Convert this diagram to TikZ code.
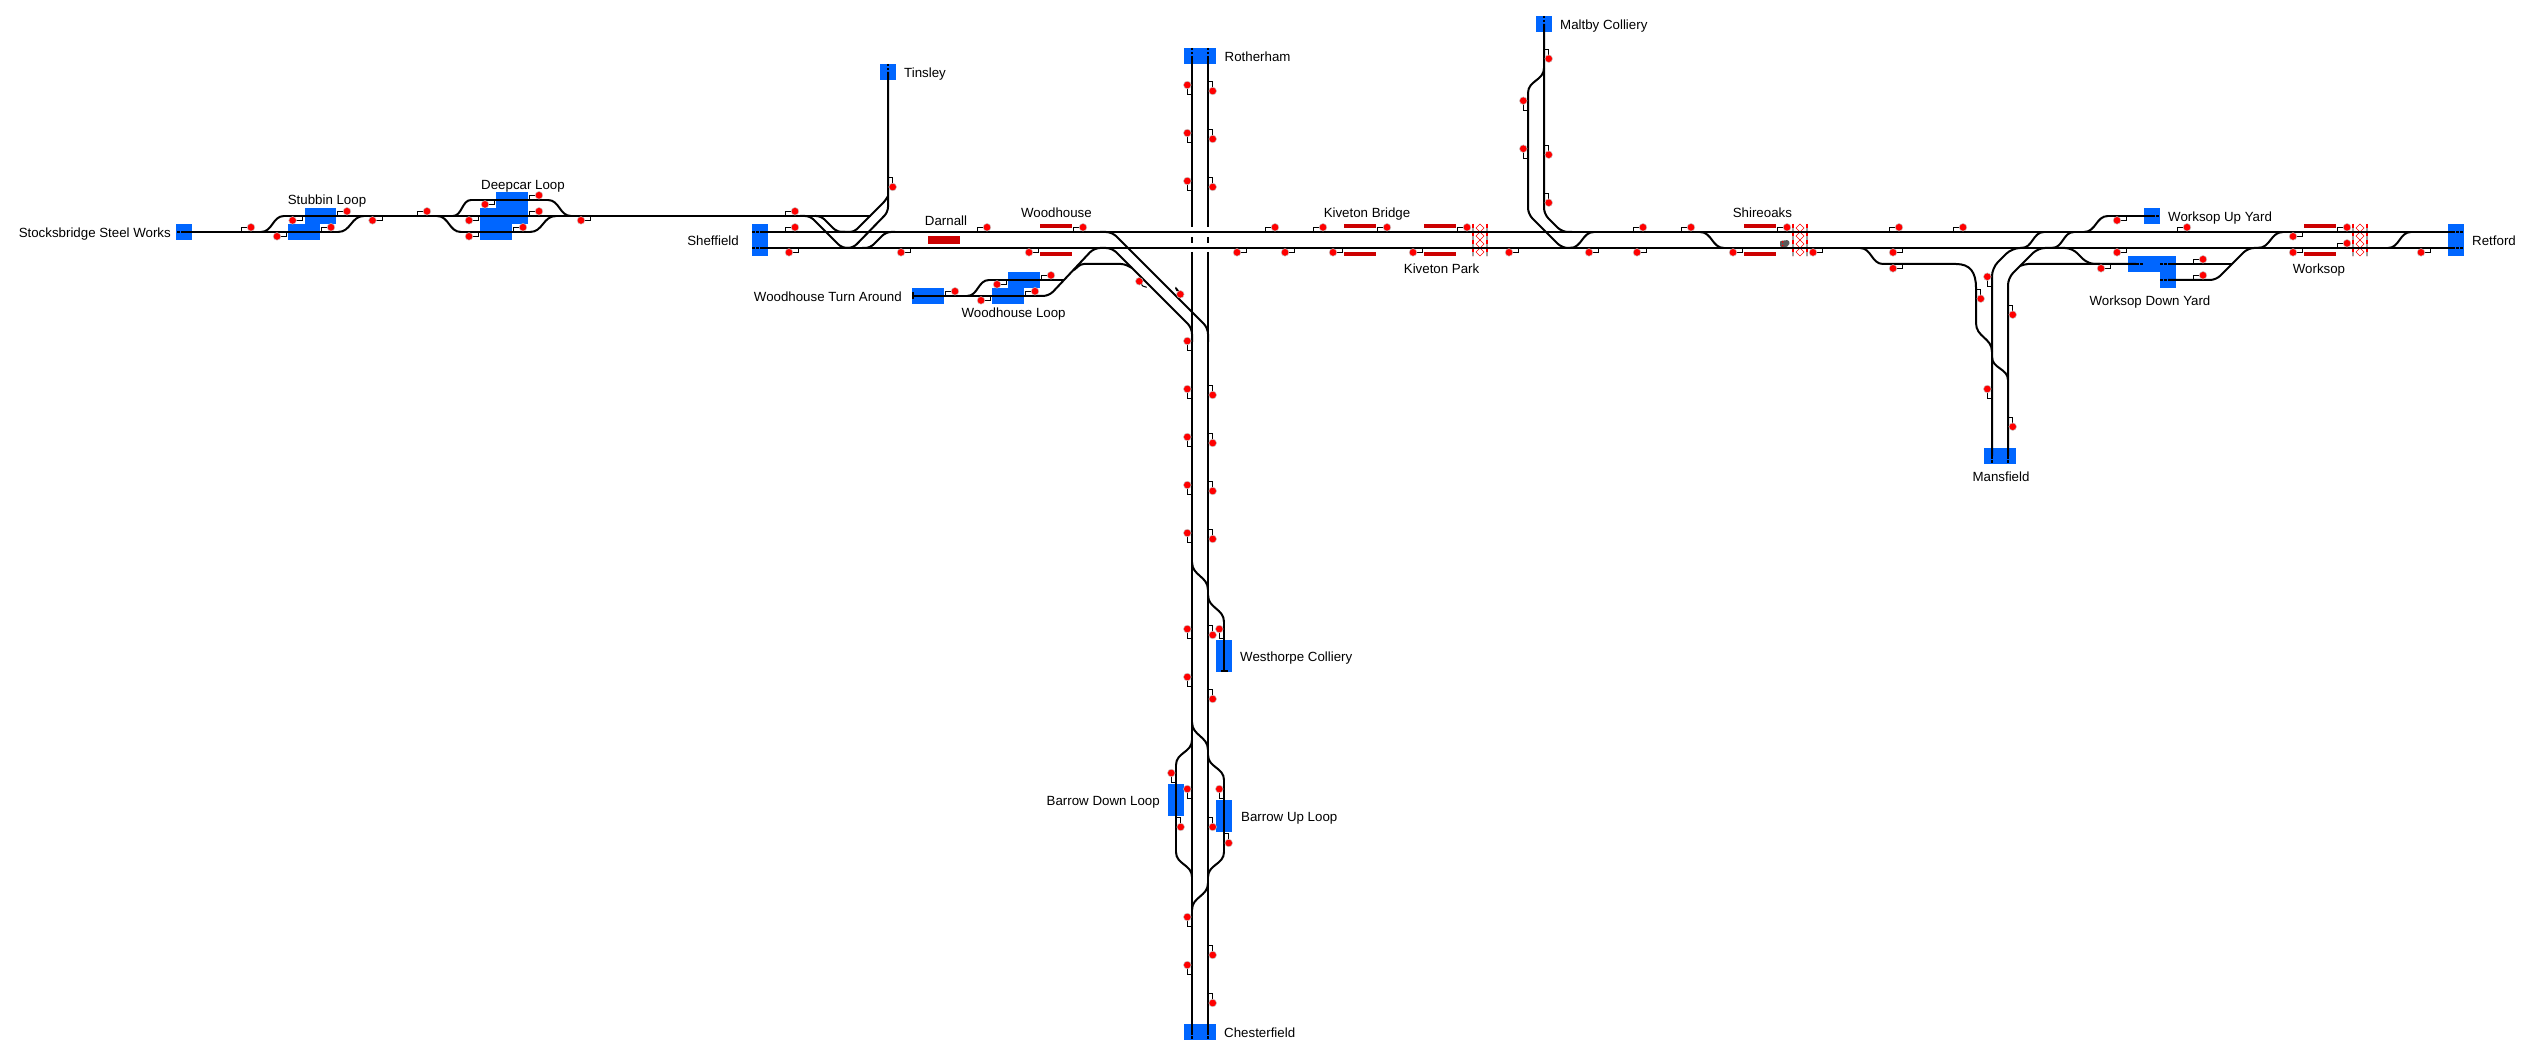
\documentclass[tikz,border=0pt]{standalone}
\usepackage{fontspec}
\setmainfont{Liberation Sans}
\definecolor{blockblue}{HTML}{0066FF}
\definecolor{platred}{HTML}{CC0000}
\definecolor{sigred}{HTML}{FF0000}
\definecolor{halo}{HTML}{C8C8C8}
\definecolor{boxgrey}{HTML}{5A5A5A}
\definecolor{xgrey}{HTML}{A0A0A0}
\tikzset{
  track/.style={draw=black,line width=2pt,line cap=butt},
  rtrack/.style={track,rounded corners=#1},
  stub/.style={draw=black,line width=2pt,dash pattern=on 2.5pt off 1.5pt},
  hook/.style={draw=black,line width=1pt},
  dotsig/.style={circle,fill=sigred,draw=halo,line width=.5pt,minimum size=7.6pt,inner sep=0pt},
  block/.style={fill=blockblue,draw=none},
  platform/.style={fill=platred,draw=none},
  lbl/.style={inner sep=0pt,text height=9.7pt,text depth=0pt,yshift=-.7pt,font=\fontsize{13.3}{15}\selectfont,text=black},
}
\newcommand{\hs}[4]{\draw[track] (#1,#2) .. controls ({(#1+#3)/2},#2) and ({(#1+#3)/2},#4) .. (#3,#4);}
\newcommand{\vs}[4]{\draw[track] (#1,#2) .. controls (#1,{(#2+#4)/2}) and (#3,{(#2+#4)/2}) .. (#3,#4);}
\newcommand{\sT}[2]{\draw[hook] ({#1-9.6},#2) -- ({#1-9.6},{#2-4.7}) -- (#1,{#2-4.7}); \node[dotsig] at (#1,{#2-4.7}) {};}
\newcommand{\sB}[2]{\draw[hook] ({#1+9.6},#2) -- ({#1+9.6},{#2+4.4}) -- (#1,{#2+4.4}); \node[dotsig] at (#1,{#2+4.4}) {};}
\newcommand{\sL}[2]{\draw[hook] (#1,{#2+9.6}) -- ({#1-4.7},{#2+9.6}) -- ({#1-4.7},#2); \node[dotsig] at ({#1-4.7},#2) {};}
\newcommand{\sR}[2]{\draw[hook] (#1,{#2-9.6}) -- ({#1+4.7},{#2-9.6}) -- ({#1+4.7},#2); \node[dotsig] at ({#1+4.7},#2) {};}
\newcommand{\lcross}[1]{%
  \draw[xgrey,line width=2pt] ({#1+1},224) -- ({#1+1},256) ({#1+15},224) -- ({#1+15},256);
  \draw[sigred,line width=2pt,dash pattern=on 4pt off 4pt] ({#1+1},224) -- ({#1+1},256) ({#1+15},224) -- ({#1+15},256);
  \foreach \yy in {228,236,244,252}{\draw[sigred,line width=.6pt] ({#1+4},\yy) -- ({#1+8},{\yy-4}) -- ({#1+12},\yy) -- ({#1+8},{\yy+4}) -- cycle;}
}
\begin{document}
\begin{tikzpicture}[x=1pt,y=-1pt]
\useasboundingbox (0,0) rectangle (2535,1056);
\fill[white] (0,0) rectangle (2535,1056);
% blocks
\fill[block] (176,224) rectangle (192,240);
\fill[block] (304.5,208) rectangle (336,224);
\fill[block] (288,224) rectangle (320,240);
\fill[block] (496,192) rectangle (528,208);
\fill[block] (480,208) rectangle (528,224);
\fill[block] (480,224) rectangle (512,240);
\fill[block] (880,64) rectangle (896,80);
\fill[block] (752,224) rectangle (768,256);
\fill[block] (912,288) rectangle (944,304);
\fill[block] (1008,272) rectangle (1040,288);
\fill[block] (992,288) rectangle (1024,304);
\fill[block] (1184,48) rectangle (1216,64);
\fill[block] (1536,16) rectangle (1552,32);
\fill[block] (2144,208) rectangle (2160,224);
\fill[block] (2128,256) rectangle (2176,272);
\fill[block] (2160,272) rectangle (2176,288);
\fill[block] (2448,224) rectangle (2464,256);
\fill[block] (1984,448) rectangle (2016,464);
\fill[block] (1216,640) rectangle (1232,672);
\fill[block] (1168,784) rectangle (1184,816);
\fill[block] (1216,800) rectangle (1232,832);
\fill[block] (1184,1024) rectangle (1216,1040);
% platforms
\fill[platform] (928,236) rectangle (960,244);
\foreach \px in {1040,1344,1424,1744,2304}{
  \fill[platform] (\px,224) rectangle ({\px+32},228);
  \fill[platform] (\px,252) rectangle ({\px+32},256);
}
% level crossings
\lcross{1472}\lcross{1792}\lcross{2352}
% grey box at Shireoaks
\fill[boxgrey,rounded corners=1pt] (1780,241) -- (1788,240) -- (1790,243) -- (1787,247) -- (1780,247) -- cycle;
\fill[sigred] (1782.7,241.9) circle (.9) (1782.7,245.6) circle (.9);
% main horizontal lines
\draw[track] (760,232) -- (2455,232);
\draw[track] (760,248) -- (2455,248);
\draw[stub] (752,232) -- (760,232) (752,248) -- (760,248);
\draw[stub] (2456,232) -- (2464,232) (2456,248) -- (2464,248);
% Stocksbridge branch
\draw[stub] (177,232) -- (184,232);
\draw[track] (184,232) -- (338,232);
\draw[track] (284,216) -- (871,216);
\hs{261}{232}{284}{216}
\hs{338}{232}{364}{216}
\draw[track] (471,200) -- (548,200);
\hs{453}{216}{471}{200}
\hs{548}{200}{571}{216}
\draw[track] (461,232) -- (530,232);
\hs{437}{216}{461}{232}
\hs{530}{232}{556}{216}
% Tinsley
\draw[stub] (888,64) -- (888,72);
\draw[rtrack=5] (888,72) -- (888,212) -- (853,248) -- (840,248);
\draw[rtrack=4] (888,196) -- (886,200) -- (854,232) -- (840,232);
\draw[rtrack=5] (800,216) -- (810,216) -- (842,248) -- (850,248);
\draw[rtrack=5] (815,216) -- (821,216) -- (837,232) -- (845,232);
\draw[rtrack=5] (862,248) -- (870,248) -- (886,232) -- (895,232);
% Woodhouse
\draw[track] (913,296) -- (1040,296);
\draw[track] (913,292.5) -- (913,299.5);
\hs{967}{296}{989}{280}
\draw[track] (989,280) -- (1064,280);
\draw[rtrack=6] (1036,296) -- (1049,296) -- (1094,248) -- (1112,248) -- (1192,328) -- (1192,342);
\draw[rtrack=6] (1100,232) -- (1112,232) -- (1208,328) -- (1208,342);
\draw[rtrack=3] (1074,270) -- (1081,264) -- (1124,264) -- (1132,268);
% Verticals
\draw[stub] (1192,48) -- (1192,56) (1208,48) -- (1208,56);
\draw[track] (1192,56) -- (1192,227) (1208,56) -- (1208,227);
\draw[track] (1192,237) -- (1192,243) (1208,237) -- (1208,243);
\draw[track] (1192,252) -- (1192,1032) (1208,252) -- (1208,1032);
\draw[stub] (1192,1032) -- (1192,1040) (1208,1032) -- (1208,1040);
\vs{1192}{562}{1208}{590}
\vs{1192}{722}{1208}{750}
\vs{1208}{883}{1192}{910}
\vs{1208}{595}{1224}{622}
\draw[track] (1224,622) -- (1224,671);
\draw[track] (1220.5,671) -- (1227.5,671);
\vs{1208}{755}{1224}{780}
\draw[track] (1224,780) -- (1224,852);
\vs{1224}{852}{1208}{877}
\vs{1192}{740}{1176}{765}
\draw[track] (1176,765) -- (1176,852);
\vs{1176}{852}{1192}{877}
% Maltby
\draw[stub] (1544,16) -- (1544,24);
\draw[rtrack=6] (1544,24) -- (1544,214) -- (1562,232) -- (1572,232);
\vs{1544}{68}{1528}{93}
\draw[rtrack=6] (1528,93) -- (1528,214) -- (1562,248) -- (1572,248);
\hs{1570}{248}{1594}{232}
\hs{1700}{232}{1724}{248}
% Mansfield and east
\hs{1860}{248}{1883}{264}
\draw[track] (1883,264) -- (1956,264) .. controls (1970,264) and (1976,272) .. (1976,288) -- (1976,323);
\vs{1976}{323}{1992}{352}
\draw[rtrack=8] (1992,456) -- (1992,268) -- (2012,248) -- (2025,248);
\draw[rtrack=7] (2008,456) -- (2008,278) -- (2038,248) -- (2072,248) -- (2088,264) -- (2100,264);
\draw[stub] (1992,456) -- (1992,464) (2008,456) -- (2008,464);
\vs{1992}{357}{2008}{380}
\draw[rtrack=2] (2020,266) -- (2026,264) -- (2136,264);
\draw[stub] (2136,264) -- (2144,264);
\draw[stub] (2160,264) -- (2168,264) (2160,280) -- (2168,280);
\draw[track] (2168,264) -- (2232,264);
\draw[rtrack=6] (2168,280) -- (2216,280) -- (2248,248) -- (2262,248);
\hs{2021.5}{248}{2044}{232}
\hs{2052}{248}{2074}{232}
\hs{2258}{248}{2283}{232}
\hs{2388}{248}{2411}{232}
\hs{2084}{232}{2108}{216}
\draw[track] (2108,216) -- (2152,216);
\draw[stub] (2152,216) -- (2160,216);
% signals: horizontal, above
\foreach \sx/\sy in {251/232,347/216,331/232,427/216,539/216,539/200,523/232,
  795/216,795/232,987/232,1083/232,955/296,1035/296,1051/280,
  1275/232,1323/232,1387/232,1467/232,1643/232,1691/232,1787/232,
  1899/232,1963/232,2187/232,2347/232,2347/248,2203/264,2203/280}{\sT{\sx}{\sy}}
% signals: horizontal, below
\foreach \sx/\sy in {277/232,292.6/216,372.5/216,469/216,469/232,485/200,581/216,
  789/248,901/248,1029/248,981/296,997/280,
  1237/248,1285/248,1333/248,1413/248,1509/248,1589/248,1637/248,1733/248,1813/248,
  1893/248,1893/264,2293/232,2117/216,2117/248,2293/248,2421/248,2101/264}{\sB{\sx}{\sy}}
% signals: vertical, left
\foreach \sx/\sy in {1192/85,1192/133,1192/181,1192/341,1192/389,1192/437,1192/485,1192/533,
  1192/629,1192/677,1192/789,1192/917,1192/965,1224/629,1224/789,1176/773,
  1528/100.7,1528/148.7,1992/276.7,1992/389}{\sL{\sx}{\sy}}
% signals: vertical, right
\foreach \sx/\sy in {888/187,1208/91,1208/139,1208/187,1208/395,1208/443,1208/491,1208/539,
  1208/635,1208/699,1208/827,1208/955,1208/1003,1224/843,1176/827,
  1544/58.7,1544/154.7,1544/202.7,1976/298.7,2008/314.7,2008/426.7}{\sR{\sx}{\sy}}
% signals on the diagonals
\draw[hook] (1146.7,287.3) -- (1142.7,286) -- (1139.3,281.3);
\node[dotsig] (sigdiagA) at (1139.3,281.3) {};
\draw[hook] (1177,291) .. controls (1174,286) and (1176,286) .. (1180.3,294.3);
\node[dotsig] (sigdiagB) at (1180.3,294.3) {};
% labels
\node[lbl,anchor=east] (stocks) at (171,232) {Stocksbridge Steel Works};
\node[lbl] (stubbin) at (327,199) {Stubbin Loop};
\node[lbl] (deepcar) at (523,184) {Deepcar Loop};
\node[lbl,anchor=west] (tinsley) at (904,72) {Tinsley};
\node[lbl,anchor=east] (sheffield) at (739,240) {Sheffield};
\node[lbl] (darnall) at (946,220) {Darnall};
\node[lbl] (woodhouse) at (1056.4,212) {Woodhouse};
\node[lbl,anchor=east] (turn) at (902,296) {Woodhouse Turn Around};
\node[lbl] (wloop) at (1013.6,312) {Woodhouse Loop};
\node[lbl,anchor=west] (rotherham) at (1224.5,56) {Rotherham};
\node[lbl,anchor=west] (maltby) at (1560,24) {Maltby Colliery};
\node[lbl] (kbridge) at (1367,212) {Kiveton Bridge};
\node[lbl] (kpark) at (1441.6,268) {Kiveton Park};
\node[lbl] (shireoaks) at (1762.4,212) {Shireoaks};
\node[lbl,anchor=west] (upyard) at (2168,216) {Worksop Up Yard};
\node[lbl,anchor=west] (retford) at (2472,240) {Retford};
\node[lbl] (downyard) at (2150,300) {Worksop Down Yard};
\node[lbl] (worksop) at (2319,268) {Worksop};
\node[lbl] (mansfield) at (2001,476) {Mansfield};
\node[lbl,anchor=west] (westhorpe) at (1240,656) {Westhorpe Colliery};
\node[lbl,anchor=east] (bdown) at (1160,800) {Barrow Down Loop};
\node[lbl,anchor=west] (bup) at (1241,816) {Barrow Up Loop};
\node[lbl,anchor=west] (chesterfield) at (1224,1032) {Chesterfield};
\end{tikzpicture}
\end{document}
